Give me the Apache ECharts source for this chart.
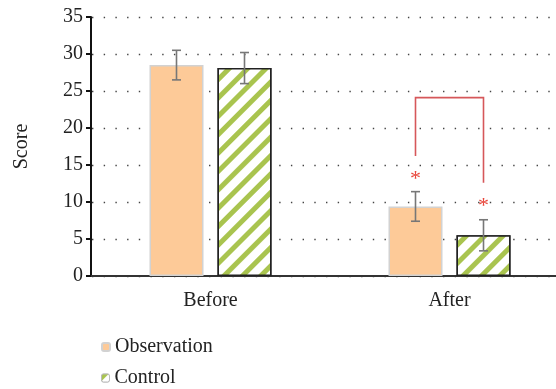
<!DOCTYPE html>
<html>
<head>
<meta charset="utf-8">
<script src="https://cdn.jsdelivr.net/npm/echarts@6/dist/echarts.min.js"></script>
<style>
  html, body { margin: 0; padding: 0; background: #fff; }
  #chart { width: 556px; height: 389px; }
</style>
</head>
<body>
<div id="chart"></div>
<script>
// Scores before and after treatment, mean with standard deviation
const categories = ['Before', 'After'];
const observationMean = [28.5, 9.4];
const observationSD = [2.0, 2.0];
const controlMean = [28.1, 5.5];
const controlSD = [2.1, 2.1];
const yTicks = [0, 5, 10, 15, 20, 25, 30, 35];

// Significance annotation on the "After" group (score units)
const bracketTop = 24.1;
const bracketLeftEnd = 16.2;
const bracketRightEnd = 12.6;
const starObservation = 13.6;
const starControl = 10.0;

const FONT = '"Liberation Serif", "DejaVu Serif", serif';
const BAR_W = 54;     // bar width, px
const BAR_GAP = 14;   // gap between the two bars of a group, px

function barCenterOffset(which) {
  const off = (BAR_W + BAR_GAP) / 2;
  return which === 0 ? -off : off;
}

function errorRender(which) {
  return function (params, api) {
    const idx = api.value(0);
    const cx = api.coord([idx, 0])[0] + barCenterOffset(which);
    const yHi = api.coord([idx, api.value(2)])[1];
    const yLo = api.coord([idx, api.value(1)])[1];
    const cap = 4.5;
    const style = { stroke: '#777', lineWidth: 1.6 };
    return {
      type: 'group',
      children: [
        { type: 'line', shape: { x1: cx, y1: yHi, x2: cx, y2: yLo }, style },
        { type: 'line', shape: { x1: cx - cap, y1: yHi, x2: cx + cap, y2: yHi }, style },
        { type: 'line', shape: { x1: cx - cap, y1: yLo, x2: cx + cap, y2: yLo }, style }
      ]
    };
  };
}

const obsErr = categories.map((c, i) => [i, observationMean[i] - observationSD[i], observationMean[i] + observationSD[i]]);
const ctlErr = categories.map((c, i) => [i, controlMean[i] - controlSD[i], controlMean[i] + controlSD[i]]);

const legendText = { fontFamily: FONT, fontSize: 20, color: '#222' };

const chart = echarts.init(document.getElementById('chart'), null, { renderer: 'canvas' });

chart.setOption({
  animation: false,
  backgroundColor: '#fff',
  textStyle: { fontFamily: FONT },
  grid: { left: 91, top: 17, width: 478, height: 259, containLabel: false, outerBoundsMode: 'none' },
  legend: [
    {
      left: 96, top: 332, itemWidth: 8, itemHeight: 8, itemGap: 5,
      textStyle: legendText, data: ['Observation']
    },
    {
      left: 96, top: 363, itemWidth: 8, itemHeight: 8, itemGap: 5,
      itemStyle: { borderColor: '#bbb', borderWidth: 1 },
      textStyle: legendText, data: ['Control']
    }
  ],
  xAxis: {
    type: 'category',
    data: categories,
    axisLine: { lineStyle: { color: '#333', width: 2 } },
    axisTick: { alignWithLabel: true, length: 6, lineStyle: { color: '#111', width: 2 } },
    axisLabel: { fontFamily: FONT, fontSize: 20, color: '#222', margin: 15 },
    splitLine: { show: false }
  },
  yAxis: {
    type: 'value',
    min: yTicks[0],
    max: yTicks[yTicks.length - 1],
    interval: 5,
    name: 'Score',
    nameLocation: 'middle',
    nameGap: 59,
    nameRotate: 90,
    nameTextStyle: { fontFamily: FONT, fontSize: 20, color: '#222' },
    axisLine: { show: true, lineStyle: { color: '#111', width: 2 } },
    axisTick: { show: true, length: 5, lineStyle: { color: '#111', width: 2 } },
    axisLabel: { fontFamily: FONT, fontSize: 20, color: '#222', margin: 8 },
    splitLine: { show: true, lineStyle: { color: '#444', width: 1.4, type: [1.4, 10.3], dashOffset: -1 } }
  },
  series: [
    {
      name: 'Observation',
      type: 'bar',
      data: observationMean,
      barWidth: BAR_W,
      barGap: (BAR_GAP / BAR_W * 100) + '%',
      itemStyle: { color: '#fdca98', borderColor: '#d2d2d2', borderWidth: 1.5 }
    },
    {
      name: 'Control',
      type: 'bar',
      data: controlMean,
      barWidth: BAR_W,
      itemStyle: {
        color: '#ffffff',
        borderColor: '#222',
        borderWidth: 1.5,
        decal: {
          symbol: 'rect',
          symbolSize: 1,
          color: '#a9c44f',
          backgroundColor: '#ffffff',
          dashArrayX: [1, 0],
          dashArrayY: [5, 8],
          rotation: -Math.PI / 4
        }
      }
    },
    {
      type: 'custom',
      name: 'obsErr',
      renderItem: errorRender(0),
      data: obsErr,
      z: 5,
      silent: true
    },
    {
      type: 'custom',
      name: 'ctlErr',
      renderItem: errorRender(1),
      data: ctlErr,
      z: 5,
      silent: true
    },
    {
      type: 'custom',
      name: 'significance',
      silent: true,
      z: 6,
      data: [[1]],
      renderItem: function (params, api) {
        const idx = api.value(0);
        const cx = api.coord([idx, 0])[0];
        const xl = cx + barCenterOffset(0);
        const xr = cx + barCenterOffset(1);
        const yTop = api.coord([idx, bracketTop])[1];
        const yL = api.coord([idx, bracketLeftEnd])[1];
        const yR = api.coord([idx, bracketRightEnd])[1];
        const sObs = api.coord([idx, starObservation])[1];
        const sCtl = api.coord([idx, starControl])[1];
        const lineStyle = { stroke: '#d6575a', lineWidth: 1.6, fill: null };
        const starStyle = { fill: '#e8473c', fontSize: 22, fontFamily: FONT, align: 'center', verticalAlign: 'middle' };
        return {
          type: 'group',
          children: [
            { type: 'polyline', shape: { points: [[xl, yL], [xl, yTop], [xr, yTop], [xr, yR]] }, style: lineStyle },
            { type: 'text', x: xl, y: sObs + 4, style: Object.assign({ text: '*' }, starStyle) },
            { type: 'text', x: xr, y: sCtl + 4, style: Object.assign({ text: '*' }, starStyle) }
          ]
        };
      }
    }
  ]
});
</script>
</body>
</html>
